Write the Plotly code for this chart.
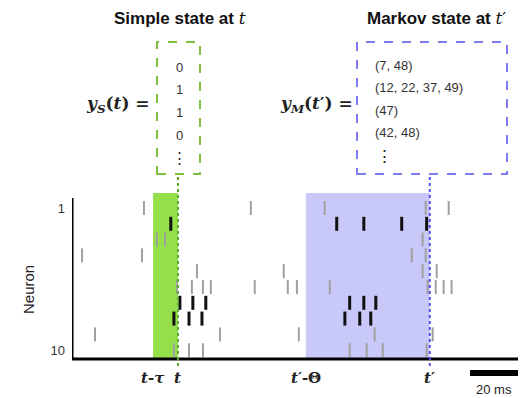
import plotly.graph_objects as go

# ---- data (times in ms, neuron index 1..10) ----
neurons = list(range(1, 11))
spike_times = {
    1: [30.0, 74.6, 105.4, 147.5, 157.1],
    2: [41.2, 110.4, 121.7, 137.5, 147.9],
    3: [35.4, 38.8, 146.2],
    4: [4.2, 29.2, 141.7, 147.5],
    5: [52.1, 88.3, 146.2, 152.1],
    6: [43.8, 50.0, 54.6, 57.9, 76.2, 90.0, 93.8, 107.5, 148.3, 151.7, 155.0, 158.3],
    7: [45.0, 50.4, 55.8, 115.8, 121.7, 126.7],
    8: [42.5, 48.8, 54.2, 113.8, 120.0, 124.6],
    9: [9.6, 61.7, 94.6, 126.2, 150.4],
    10: [42.5, 48.8, 54.6, 115.8, 122.9, 129.6, 147.9],
}
pattern_neurons = [2, 7, 8]
t_now = 44.2
tau = 10.4
t_prime = 149.2
theta = 51.7
simple_state = ["0", "1", "1", "0"]
markov_state = ["(7, 48)", "(12, 22, 37, 49)", "(47)", "(42, 48)"]
scale_ms = 20
x_max = 186.0

W, H = 527, 398
L, R, T, B = 72, 9, 193, 39
pw, ph = W - L - R, H - T - B


def py(px):  # pixel y -> paper y
    return (H - B - px) / ph


def px_(p):  # pixel x -> paper x
    return (p - L) / pw


fig = go.Figure()

gx, gy, bx, by = [], [], [], []
for n in neurons:
    for s in spike_times[n]:
        if n in pattern_neurons:
            bx.append(s); by.append(n)
        else:
            gx.append(s); gy.append(n)

fig.add_trace(go.Scatter(x=gx, y=gy, mode="markers",
                         marker=dict(symbol="line-ns", size=10,
                                     line=dict(width=2, color="#a0a0a0")),
                         hoverinfo="skip", showlegend=False))
fig.add_trace(go.Scatter(x=bx, y=by, mode="markers",
                         marker=dict(symbol="line-ns", size=10,
                                     line=dict(width=3, color="#111111")),
                         hoverinfo="skip", showlegend=False))

shapes = []
shapes.append(dict(type="rect", xref="x", yref="paper", x0=t_now - tau, x1=t_now,
                   y0=0, y1=1, fillcolor="#95e04a", line=dict(width=0), layer="below"))
shapes.append(dict(type="rect", xref="x", yref="paper", x0=t_prime - theta, x1=t_prime,
                   y0=0, y1=1, fillcolor="#c9c9f9", line=dict(width=0), layer="below"))
shapes.append(dict(type="line", xref="x", yref="paper", x0=0, x1=0,
                   y0=0, y1=py(198), line=dict(color="black", width=3)))
shapes.append(dict(type="line", xref="x", yref="paper", x0=0, x1=x_max,
                   y0=0, y1=0, line=dict(color="black", width=3)))
shapes.append(dict(type="line", xref="x", yref="paper", x0=t_now, x1=t_now,
                   y0=py(366), y1=py(174), line=dict(color="#5aa82a", width=2, dash="dot")))
shapes.append(dict(type="line", xref="x", yref="paper", x0=t_prime, x1=t_prime,
                   y0=py(366), y1=py(174), line=dict(color="#5050ee", width=2, dash="dot")))
shapes.append(dict(type="rect", xref="paper", yref="paper", x0=px_(157), x1=px_(200),
                   y0=py(174), y1=py(42), line=dict(color="#80c040", width=2, dash="dash")))
shapes.append(dict(type="rect", xref="paper", yref="paper", x0=px_(357), x1=px_(507),
                   y0=py(174), y1=py(42), line=dict(color="#7c7cf0", width=2, dash="dash")))
shapes.append(dict(type="line", xref="x", yref="paper", x0=x_max - scale_ms, x1=x_max,
                   y0=py(373), y1=py(373), line=dict(color="black", width=6)))

serif = "DejaVu Serif"
sans = "Liberation Sans"
ann = []


def add(text, x, y, xref="paper", xanchor="center", size=12, family=sans,
        color="#222", angle=0):
    ann.append(dict(text=text, x=x, xref=xref, y=y, yref="paper", xanchor=xanchor,
                    yanchor="middle", showarrow=False, textangle=angle,
                    font=dict(family=family, size=size, color=color)))


for txt, xv in [("<i>t</i>-<i>τ</i>", t_now - tau), ("<i>t</i>", t_now),
                ("<i>t</i>′-Θ", t_prime - theta), ("<i>t</i>′", t_prime)]:
    add("<b>" + txt + "</b>", xv, py(378), xref="x", size=15, family=serif)
add("20 ms", x_max - scale_ms / 2, py(389), xref="x", size=13)
add("Neuron", px_(28), py(290), size=15, angle=-90)
add("<b>Simple state at </b><span style='font-family:DejaVu Serif'><i>t</i></span>",
    px_(180), py(18), size=17, color="#111")
add("<b>Markov state at </b><span style='font-family:DejaVu Serif'><i>t</i>′</span>",
    px_(436), py(18), size=17, color="#111")
add("<b><i>y<sub>S</sub></i>(<i>t</i>) =</b>", px_(152), py(104), xanchor="right",
    size=17, family=serif)
add("<b><i>y<sub>M</sub></i>(<i>t</i>′) =</b>", px_(355), py(104), xanchor="right",
    size=17, family=serif)
for i, v in enumerate(simple_state):
    add(v, px_(179), py(67 + 22.7 * i), size=13, color="#333")
add("⋮", px_(179), py(157), size=15)
for i, v in enumerate(markov_state):
    add(v, px_(373), py(65 + 22.5 * i), xanchor="left", size=13, color="#333")
add("⋮", px_(384), py(156), size=17)

row_px = 15.8
y_top = 1 - (208 - T) / row_px
y_bot = 1 + (H - B - 208) / row_px

fig.update_layout(
    width=W, height=H, margin=dict(l=L, r=R, t=T, b=B),
    paper_bgcolor="white", plot_bgcolor="white",
    shapes=shapes, annotations=ann, showlegend=False,
    xaxis=dict(range=[0, x_max], showgrid=False, zeroline=False, showline=False,
               showticklabels=False, ticks=""),
    yaxis=dict(range=[y_bot, y_top], showgrid=False, zeroline=False, showline=False,
               tickvals=[1, 10], ticktext=["1", "10"], ticks="", ticklabelstandoff=6,
               tickfont=dict(family=sans, size=13, color="#333")),
)

fig.write_html("out.html")
